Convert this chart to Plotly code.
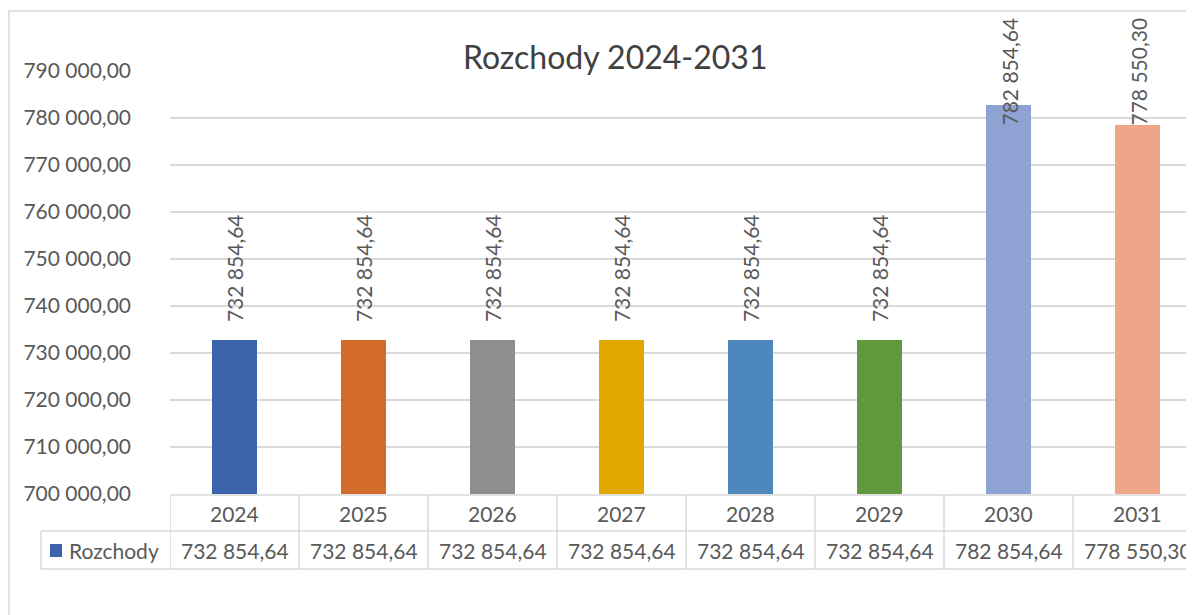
import plotly.graph_objects as go

# ---- data ----
years = ["2024", "2025", "2026", "2027", "2028", "2029", "2030", "2031"]
rozchody = [732854.64, 732854.64, 732854.64, 732854.64, 732854.64, 732854.64, 782854.64, 778550.30]
bar_colors = ["#3A63AB", "#D36C2B", "#8E8E8E", "#E1A900", "#4E87BB", "#5E993D", "#8EA3D4", "#EFA587"]
series_name = "Rozchody"
title_text = "Rozchody 2024-2031"

# ---- layout constants (page body has an 8px margin) ----
OFF = 8
W, H = 1194 - OFF, 615 - OFF
ML, MT = 170 - OFF, 71 - OFF
MB = H - (494 - OFF)
PW, PH = W - ML, H - MT - MB
CAT_PX = 129
YMIN, YMAX = 700000, 790000
FONT = "Lato"
TXT = "#595959"
GRID = "#D9D9D9"

def fmt(v):
    return f"{v:,.2f}".replace(",", " ").replace(".", ",")

def py(pix):  # screen pixel row -> paper y
    return (H - MB - (pix - OFF)) / PH

def px(pix):  # screen pixel col -> paper x
    return ((pix - OFF) - ML) / PW

xr = [-0.5, -0.5 + PW / CAT_PX]

fig = go.Figure(go.Bar(
    x=list(range(len(years))), y=rozchody, width=0.35,
    marker=dict(color=bar_colors, line=dict(width=0)),
    name=series_name, showlegend=False, hoverinfo="x+y",
))

# data labels (rotated), pushed down when they would leave the chart area
units_per_px = (YMAX - YMIN) / PH
label_len_px = 125
chart_top_px = 18 - OFF
cap = YMIN + (H - MB - chart_top_px - label_len_px) * units_per_px
annots = []
for i, v in enumerate(rozchody):
    annots.append(dict(x=i, y=min(v, cap), xref="x", yref="y", text=fmt(v),
                       textangle=-90, showarrow=False, yanchor="bottom", xanchor="center",
                       yshift=15, font=dict(family=FONT, size=21, color=TXT)))

shapes = []
# outer chart border
shapes.append(dict(type="rect", xref="paper", yref="paper", x0=px(9), x1=px(1300),
                   y0=py(700), y1=py(11), line=dict(color=GRID, width=1.5), layer="below"))
# data table
row1_top, row1_bot, row2_bot = 495, 531, 569
lx = px(170 - CAT_PX)
shapes.append(dict(type="line", xref="paper", yref="paper", x0=0, x1=1, y0=py(row1_top), y1=py(row1_top),
                   line=dict(color=GRID, width=1.5)))
for yy in (row1_bot, row2_bot):
    shapes.append(dict(type="line", xref="paper", yref="paper", x0=lx, x1=1, y0=py(yy), y1=py(yy),
                       line=dict(color=GRID, width=1.5)))
shapes.append(dict(type="line", xref="paper", yref="paper", x0=lx, x1=lx, y0=py(row1_bot), y1=py(row2_bot),
                   line=dict(color=GRID, width=1.5)))
for i in range(len(years) + 1):
    shapes.append(dict(type="line", xref="x", yref="paper", x0=i - 0.5, x1=i - 0.5,
                       y0=py(row1_top), y1=py(row2_bot), line=dict(color=GRID, width=1.5)))
for i, (yr, v) in enumerate(zip(years, rozchody)):
    annots.append(dict(x=i, xref="x", yref="paper", y=py((row1_top + row1_bot) / 2), text=yr,
                       yanchor="middle", xanchor="center",
                       showarrow=False, font=dict(family=FONT, size=21, color=TXT)))
    annots.append(dict(x=i, xref="x", yref="paper", y=py((row1_bot + row2_bot) / 2), text=fmt(v),
                       yanchor="middle", xanchor="center",
                       showarrow=False, font=dict(family=FONT, size=21, color=TXT)))
# legend key
shapes.append(dict(type="rect", xref="paper", yref="paper", x0=px(50), x1=px(62),
                   y0=py(557), y1=py(544), fillcolor=bar_colors[0], line=dict(width=0)))
annots.append(dict(x=px(67), xref="paper", yref="paper", y=py(550), xanchor="left", yanchor="middle",
                   text=series_name, showarrow=False, font=dict(family=FONT, size=21, color=TXT)))
# title
annots.append(dict(x=px(615), xref="paper", yref="paper", y=py(56), text=title_text,
                   xanchor="center", yanchor="middle",
                   showarrow=False, font=dict(family=FONT, size=32, color="#404040")))

fig.update_layout(
    width=W, height=H, margin=dict(l=ML, r=0, t=MT, b=MB),
    paper_bgcolor="white", plot_bgcolor="white",
    separators=", ",
    shapes=shapes, annotations=annots,
    xaxis=dict(range=xr, showticklabels=False, showgrid=False, zeroline=False, showline=False),
    yaxis=dict(range=[YMIN, YMAX], dtick=10000, tickformat=",.2f", showgrid=True,
               gridcolor=GRID, gridwidth=1.5, zeroline=False, showline=False,
               tickfont=dict(family=FONT, size=21, color=TXT), ticklabelstandoff=38),
    bargap=0,
)

fig.write_html("out.html")
